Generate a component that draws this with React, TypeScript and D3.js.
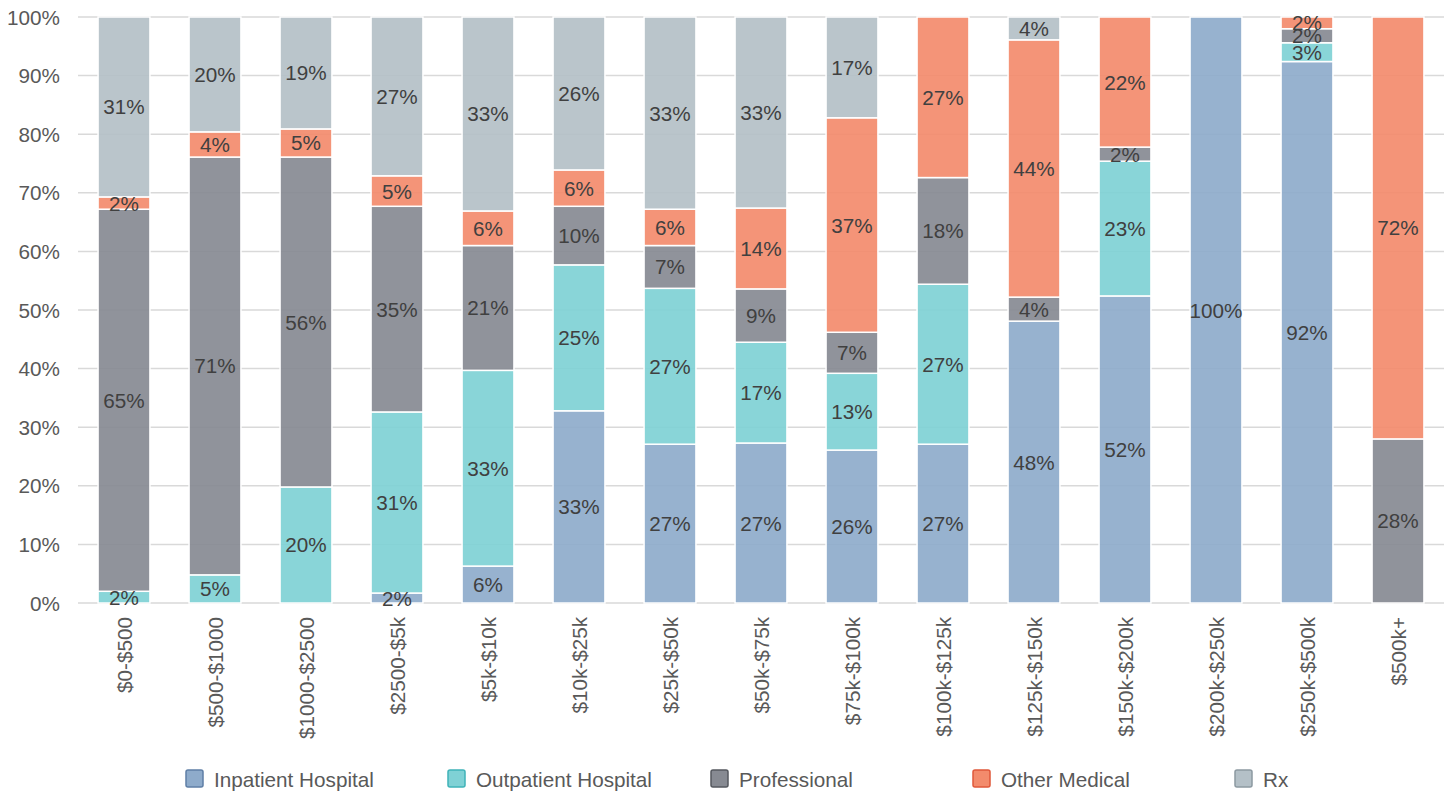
import React from "react";
import * as d3 from "d3";

const categories = [
  "$0-$500", "$500-$1000", "$1000-$2500", "$2500-$5k", "$5k-$10k", "$10k-$25k",
  "$25k-$50k", "$50k-$75k", "$75k-$100k", "$100k-$125k", "$125k-$150k",
  "$150k-$200k", "$200k-$250k", "$250k-$500k", "$500k+",
];
const seriesNames = ["Inpatient Hospital", "Outpatient Hospital", "Professional", "Other Medical", "Rx"];
const inpatient = [0, 0, 0, 1.7, 6.3, 32.8, 27.1, 27.3, 26.1, 27.1, 48.1, 52.4, 100, 92.4, 0];
const outpatient = [2.0, 4.8, 19.8, 30.9, 33.4, 24.9, 26.6, 17.2, 13.1, 27.3, 0, 23.0, 0, 3.2, 0];
const professional = [65.2, 71.3, 56.3, 35.1, 21.3, 10.0, 7.3, 9.1, 7.0, 18.2, 4.1, 2.4, 0, 2.4, 28.0];
const otherMedical = [2.1, 4.3, 4.8, 5.2, 5.9, 6.2, 6.2, 13.8, 36.6, 27.4, 43.9, 22.2, 0, 2.0, 72.0];
const rx = [30.7, 19.6, 19.1, 27.1, 33.1, 26.1, 32.8, 32.6, 17.2, 0, 3.9, 0, 0, 0, 0];
const yTicks = [0, 10, 20, 30, 40, 50, 60, 70, 80, 90, 100];

const colors = ["#8eabcb", "#7fd1d5", "#878a92", "#f38b6c", "#b4c0c7"];
const strokeColors = ["#5f7fa6", "#3fb3b8", "#55585f", "#e0583a", "#8c99a1"];
const legendX = [186, 448, 711, 973, 1235];

const W = 1456, H = 793;
const font = "'Liberation Sans', Arial, sans-serif";
const fs = 20.7;

export default function App() {
  const x = d3.scaleBand<string>().domain(categories).range([78.5, 1443.5]).paddingInner(0.43).paddingOuter(0.215);
  const y = d3.scaleLinear().domain([0, 100]).range([603, 17]);
  const seriesArrays = [inpatient, outpatient, professional, otherMedical, rx];
  const rows = categories.map((c, i) => {
    const r: any = { cat: c };
    seriesNames.forEach((s, k) => (r[s] = seriesArrays[k][i]));
    return r;
  });
  const stacked = d3.stack<any>().keys(seriesNames)(rows);

  return (
    <svg width={W} height={H} style={{ position: "absolute", left: 0, top: 0, background: "#fff" }} fontFamily={font}>
      {yTicks.map((t) => (
        <g key={t}>
          <line x1={78} x2={1444} y1={y(t)} y2={y(t)} stroke="#d9d9d9" strokeWidth={1.5} />
          <text x={60} y={y(t)} textAnchor="end" dominantBaseline="central" fontSize={fs} fill="#595959">
            {t}%
          </text>
        </g>
      ))}
      {stacked.map((layer, k) => (
        <g key={layer.key}>
          {layer.map((d, i) => {
            const h = y(d[0]) - y(d[1]);
            if (h <= 0) return null;
            return (
              <rect key={i} x={x(categories[i])} width={x.bandwidth()} y={y(d[1])} height={h}
                fill={colors[k]} fillOpacity={0.92} stroke="#fff" strokeWidth={1.5} />
            );
          })}
        </g>
      ))}
      {stacked.map((layer, k) => (
        <g key={layer.key + "l"}>
          {layer.map((d, i) => {
            const v = d[1] - d[0];
            if (v < 0.5) return null;
            return (
              <text key={i} x={(x(categories[i]) as number) + x.bandwidth() / 2} y={y((d[0] + d[1]) / 2)}
                textAnchor="middle" dominantBaseline="central" fontSize={fs} fill="#404040">
                {Math.round(v)}%
              </text>
            );
          })}
        </g>
      ))}
      {categories.map((c) => (
        <text key={c} transform={`translate(${(x(c) as number) + x.bandwidth() / 2},617) rotate(-90)`}
          textAnchor="end" dominantBaseline="central" fontSize={fs} fill="#595959">
          {c}
        </text>
      ))}
      {seriesNames.map((s, k) => (
        <g key={s}>
          <rect x={legendX[k]} y={770} width={17} height={17} rx={2} fill={colors[k]} stroke={strokeColors[k]} strokeWidth={1.5} />
          <text x={legendX[k] + 28} y={779} dominantBaseline="central" fontSize={fs} fill="#595959">
            {s}
          </text>
        </g>
      ))}
    </svg>
  );
}
